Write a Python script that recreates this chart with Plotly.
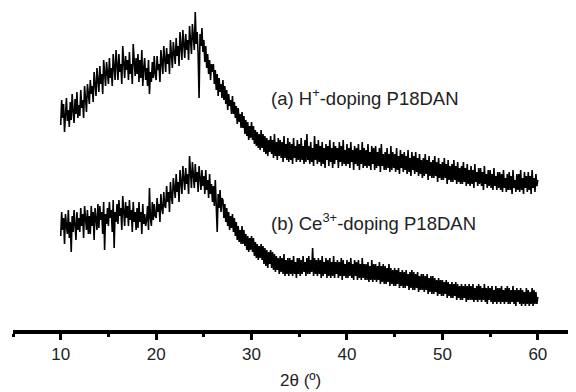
import plotly.graph_objects as go

two_theta = [round(10 + 0.1 * i, 1) for i in range(501)]

intensity_a = [
    205, 230, 212, 226, 198, 224, 232, 209, 220, 203,
    228, 210, 236, 219, 207, 231, 216, 238, 212, 225,
    214, 240, 222, 230, 212, 244, 228, 218, 246, 231,
    226, 250, 236, 244, 228, 258, 240, 234, 262, 245,
    238, 264, 246, 256, 236, 270, 250, 244, 268, 252,
    246, 272, 252, 262, 244, 276, 258, 250, 280, 256,
    250, 276, 258, 266, 246, 284, 262, 252, 274, 260,
    270, 250, 278, 256, 266, 246, 286, 260, 254, 272,
    256, 276, 248, 270, 252, 280, 244, 262, 272, 250,
    262, 244, 270, 236, 258, 248, 268, 252, 274, 256,
    250, 274, 260, 266, 248, 280, 262, 256, 284, 264,
    258, 282, 266, 276, 256, 290, 270, 262, 288, 274,
    266, 292, 274, 284, 264, 298, 278, 270, 300, 282,
    272, 296, 280, 290, 270, 304, 286, 276, 306, 288,
    280, 318, 286, 298, 276, 232, 296, 284, 302, 278,
    290, 268, 284, 262, 276, 256, 270, 250, 266, 258,
    266, 246, 260, 240, 256, 234, 252, 238, 246, 232,
    250, 230, 244, 226, 240, 220, 236, 224, 230, 216,
    234, 216, 228, 212, 224, 206, 222, 208, 216, 202,
    218, 202, 214, 196, 210, 194, 208, 190, 204, 192,
    208, 190, 204, 186, 200, 184, 198, 182, 196, 180,
    200, 182, 196, 178, 194, 176, 192, 174, 190, 178,
    194, 176, 190, 172, 196, 174, 188, 170, 192, 174,
    190, 172, 188, 168, 194, 172, 186, 170, 192, 168,
    188, 170, 186, 166, 192, 172, 184, 168, 190, 170,
    186, 168, 192, 170, 184, 166, 190, 168, 196, 170,
    184, 166, 188, 168, 182, 164, 194, 170, 186, 166,
    190, 168, 184, 164, 188, 166, 182, 162, 186, 170,
    184, 164, 190, 168, 182, 162, 188, 166, 184, 170,
    182, 162, 188, 168, 184, 164, 190, 166, 180, 164,
    186, 166, 182, 162, 188, 168, 180, 160, 184, 166,
    182, 164, 186, 160, 180, 166, 188, 162, 182, 164,
    180, 162, 186, 164, 178, 160, 184, 166, 182, 160,
    184, 162, 178, 164, 182, 158, 186, 164, 176, 160,
    178, 160, 182, 162, 176, 158, 184, 160, 178, 162,
    176, 158, 182, 160, 174, 156, 180, 162, 176, 158,
    178, 160, 174, 156, 180, 158, 172, 154, 178, 160,
    174, 156, 178, 158, 172, 154, 176, 156, 170, 152,
    172, 154, 176, 156, 170, 150, 174, 154, 168, 152,
    170, 152, 174, 154, 168, 148, 172, 152, 166, 150,
    168, 150, 172, 152, 166, 146, 170, 150, 164, 148,
    166, 148, 170, 150, 164, 146, 168, 148, 162, 146,
    164, 146, 168, 148, 162, 144, 166, 146, 160, 144,
    164, 146, 160, 142, 166, 148, 158, 144, 162, 146,
    162, 144, 158, 140, 164, 146, 156, 142, 160, 144,
    160, 142, 156, 140, 162, 144, 154, 140, 158, 142,
    158, 140, 156, 138, 160, 142, 152, 138, 156, 140,
    158, 140, 154, 136, 160, 142, 150, 138, 156, 140,
    156, 138, 160, 140, 152, 136, 158, 142, 154, 138,
    158, 140, 154, 136, 160, 142, 152, 138, 156, 144,
    150,
]

intensity_b = [
    94, 118, 100, 112, 86, 116, 104, 96, 120, 92,
    108, 78, 114, 98, 120, 102, 90, 118, 100, 112,
    98, 122, 104, 116, 92, 124, 108, 100, 120, 96,
    114, 96, 124, 104, 118, 90, 122, 108, 100, 126,
    102, 124, 110, 118, 96, 128, 80, 116, 106, 122,
    104, 128, 112, 120, 98, 130, 82, 118, 108, 126,
    106, 130, 114, 122, 100, 134, 110, 104, 128, 112,
    124, 104, 130, 110, 120, 98, 128, 108, 118, 100,
    122, 102, 128, 108, 118, 96, 126, 106, 116, 104,
    110, 124, 100, 142, 112, 104, 128, 110, 126, 114,
    112, 132, 118, 126, 108, 136, 122, 116, 138, 124,
    122, 144, 128, 138, 118, 148, 134, 126, 152, 136,
    132, 156, 138, 148, 128, 160, 142, 136, 164, 146,
    140, 162, 146, 156, 136, 174, 150, 142, 168, 154,
    142, 166, 148, 158, 138, 164, 150, 140, 160, 144,
    154, 136, 160, 140, 150, 132, 156, 136, 146, 128,
    144, 124, 150, 128, 98, 136, 122, 140, 118, 132,
    130, 112, 126, 108, 122, 104, 118, 100, 114, 102,
    116, 98, 112, 94, 108, 90, 104, 88, 100, 86,
    104, 86, 100, 84, 96, 80, 94, 78, 92, 80,
    94, 78, 92, 74, 88, 72, 86, 70, 84, 72,
    86, 70, 84, 66, 82, 64, 80, 62, 78, 66,
    80, 62, 78, 60, 76, 58, 74, 60, 72, 56,
    74, 58, 72, 56, 76, 54, 70, 56, 72, 54,
    72, 56, 70, 54, 74, 56, 68, 52, 72, 56,
    72, 54, 70, 56, 74, 58, 68, 54, 72, 56,
    74, 56, 70, 58, 82, 54, 72, 56, 70, 54,
    72, 56, 70, 52, 74, 54, 68, 56, 72, 52,
    70, 54, 72, 52, 68, 54, 74, 52, 68, 56,
    70, 52, 68, 54, 72, 50, 70, 54, 66, 52,
    70, 52, 68, 54, 72, 52, 66, 50, 70, 54,
    68, 50, 70, 52, 66, 50, 72, 52, 66, 50,
    66, 50, 68, 48, 64, 50, 70, 48, 66, 50,
    66, 48, 64, 50, 68, 46, 64, 48, 66, 46,
    64, 46, 62, 48, 66, 44, 62, 46, 60, 44,
    62, 44, 60, 46, 62, 42, 58, 44, 60, 42,
    58, 42, 60, 44, 56, 40, 58, 42, 60, 40,
    58, 40, 56, 42, 58, 38, 54, 40, 56, 40,
    56, 38, 54, 40, 56, 36, 52, 38, 54, 36,
    54, 36, 52, 38, 50, 34, 52, 36, 50, 34,
    50, 34, 48, 36, 50, 32, 48, 34, 46, 32,
    48, 32, 46, 34, 48, 30, 46, 32, 44, 30,
    46, 30, 44, 32, 46, 28, 44, 30, 46, 30,
    44, 30, 46, 28, 42, 30, 44, 28, 46, 30,
    44, 28, 42, 30, 46, 28, 42, 26, 44, 30,
    42, 28, 44, 26, 40, 28, 44, 26, 42, 28,
    42, 26, 44, 28, 40, 26, 42, 28, 44, 26,
    42, 26, 40, 28, 44, 26, 40, 24, 42, 28,
    40, 26, 42, 24, 40, 26, 38, 24, 42, 26,
    40, 24, 38, 26, 42, 24, 40, 26, 38, 26,
    33,
]

label_a = "(a) H<sup>+</sup>-doping P18DAN"
label_b = "(b) Ce<sup>3+</sup>-doping P18DAN"
x_title = "2θ (º)"

FONT = "Liberation Sans, Arial, Helvetica, sans-serif"

fig = go.Figure()
fig.add_trace(go.Scatter(x=two_theta, y=intensity_a, mode="lines",
                         line=dict(color="#000000", width=1.6), showlegend=False))
fig.add_trace(go.Scatter(x=two_theta, y=intensity_b, mode="lines",
                         line=dict(color="#000000", width=1.6), showlegend=False))

fig.add_annotation(x=31.8, y=233, xref="x", yref="y", text=label_a, showarrow=False,
                   xanchor="left", yanchor="middle", font=dict(size=18.5, color="#222", family=FONT))
fig.add_annotation(x=31.8, y=108, xref="x", yref="y", text=label_b, showarrow=False,
                   xanchor="left", yanchor="middle", font=dict(size=18.5, color="#222", family=FONT))
fig.add_annotation(x=35.1, y=-0.158, xref="x", yref="paper", text=x_title, showarrow=False,
                   xanchor="center", yanchor="middle", font=dict(size=17, color="#222", family=FONT))

# page body adds an 8px margin, so the figure is sized to fit the 576x392 window
fig.update_layout(
    width=568, height=384,
    margin=dict(l=5, r=0, t=0, b=62, autoexpand=False),
    paper_bgcolor="white", plot_bgcolor="white",
    font=dict(family=FONT, size=17, color="#222"),
    xaxis=dict(
        range=[5, 64], showgrid=False, zeroline=False, automargin=False,
        showline=True, linecolor="black", linewidth=4,
        ticks="outside", tickmode="linear", tick0=10, dtick=10,
        ticklen=6, tickwidth=3, tickcolor="black",
        tickfont=dict(size=17, color="#222"),
        minor=dict(tick0=5, dtick=10, ticks="outside", ticklen=3, tickwidth=3, tickcolor="black"),
    ),
    yaxis=dict(range=[0, 322], visible=False),
)

fig.write_html("out.html")
